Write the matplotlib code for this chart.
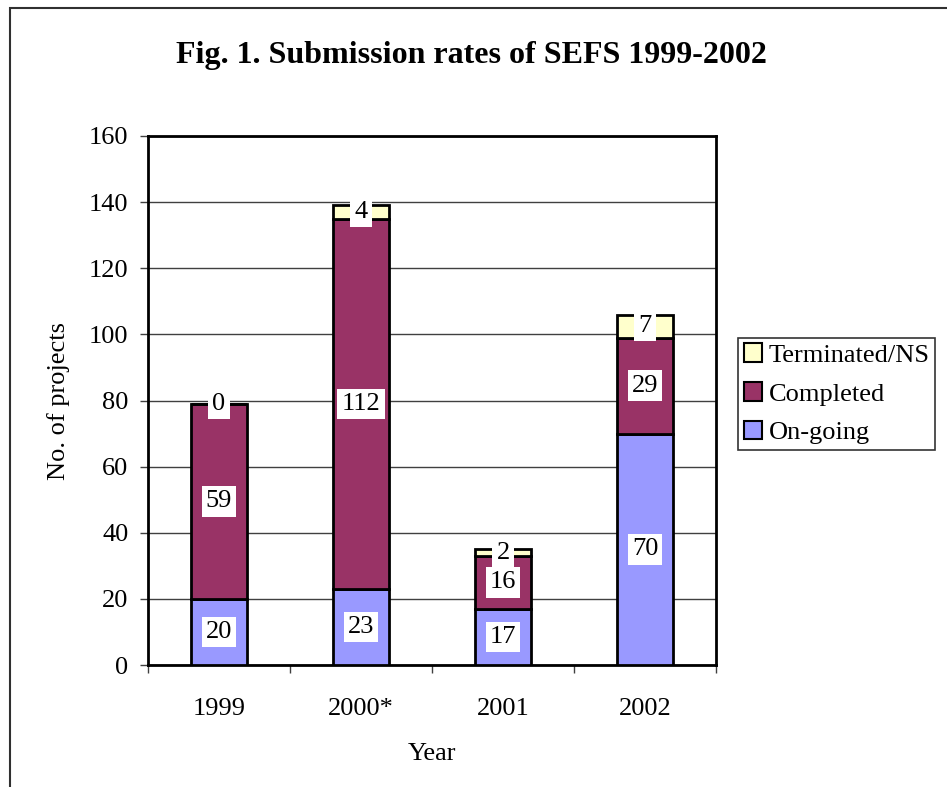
import matplotlib.pyplot as plt
import numpy as np
from matplotlib.patches import Rectangle, Patch

plt.rcParams['font.family'] = ['Liberation Serif', 'DejaVu Serif']

years = ['1999', '2000*', '2001', '2002']
ongoing = [20, 23, 17, 70]
completed = [59, 112, 16, 29]
terminated = [0, 4, 2, 7]

col_ongoing = '#9999FF'
col_completed = '#993366'
col_terminated = '#FFFFCC'

fig = plt.figure(figsize=[9.47, 7.87], dpi=100)
ax = fig.add_axes([0.1563, 0.155, 0.5998, 0.6722])

pos = np.arange(len(years))
barprops = {'width': 0.4, 'edgecolor': 'black', 'linewidth': 2, 'zorder': 3}
b1 = ax.bar(pos, ongoing, color=col_ongoing, **barprops)
bottom2 = np.array(ongoing)
b2 = ax.bar(pos, completed, bottom=bottom2, color=col_completed, **barprops)
bottom3 = bottom2 + np.array(completed)
b3 = ax.bar(pos, terminated, bottom=bottom3, color=col_terminated, **barprops)

# value labels, white boxes in the middle of each segment
labbox = {'facecolor': 'white', 'edgecolor': 'none', 'pad': 3}
for vals, bots in [(ongoing, np.zeros(4)), (completed, bottom2), (terminated, bottom3)]:
    for x, v, b in zip(pos, vals, bots):
        ax.text(x, b + v / 2, str(v), ha='center', va='center', fontsize=19,
                bbox=labbox, zorder=5)

ax.set_xlim(-0.5, 3.5)
ax.set_ylim(0, 160)
ax.set_yticks(np.arange(0, 161, 20))
ax.yaxis.grid(True, color='#404040', linewidth=1, zorder=0)
ax.set_xticks(pos)
ax.set_xticklabels(years)
ax.set_xticks(np.arange(-0.5, 4, 1), minor=True)
ax.tick_params(axis='x', which='major', length=0, pad=24, labelsize=19)
ax.tick_params(axis='x', which='minor', length=6, width=1, color='#404040', direction='out')
ax.tick_params(axis='y', length=6, width=1, color='#404040', direction='out', pad=8, labelsize=19)
for sp in ax.spines.values():
    sp.set_linewidth(2)

ax.set_ylabel('No. of projects', fontsize=19, labelpad=14)
ax.set_xlabel('Year', fontsize=19, labelpad=16)

fig.text(0.498, 0.93, 'Fig. 1. Submission rates of SEFS 1999-2002', ha='center', va='center',
         fontsize=23, fontweight='bold')

handles = [Patch(facecolor=col_terminated, edgecolor='black', linewidth=1.5),
           Patch(facecolor=col_completed, edgecolor='black', linewidth=1.5),
           Patch(facecolor=col_ongoing, edgecolor='black', linewidth=1.5)]
leg = fig.legend(handles, ['Terminated/NS', 'Completed', 'On-going'],
                 loc='upper left', bbox_to_anchor=(0.779, 0.571), fontsize=19,
                 frameon=True, fancybox=False, edgecolor='black', borderpad=0.22,
                 handlelength=0.7, handleheight=0.7, handletextpad=0.25, labelspacing=0.58,
                 borderaxespad=0)
leg.get_frame().set_linewidth(1.2)

# outer chart frame (cut off at right and bottom)
fig.patches.append(Rectangle((0.0106, -0.2), 1.2, 1.1898, transform=fig.transFigure,
                             fill=False, edgecolor='#303030', linewidth=1.5))

plt.savefig('out.png', dpi=100)
